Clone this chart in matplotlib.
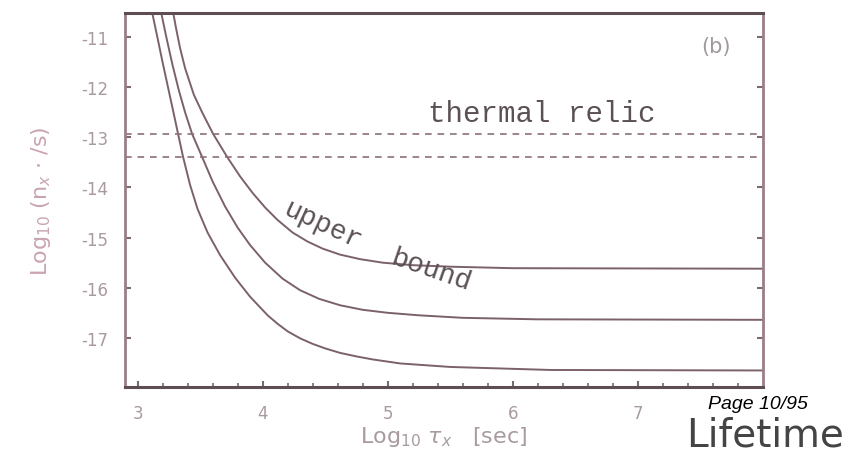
import numpy as np
import matplotlib.pyplot as plt

plt.rcParams['axes.unicode_minus'] = False

# curves: log10 tau (x) vs log10 n (y)
tau_low = [3.116, 3.16, 3.20, 3.24, 3.28, 3.324, 3.364, 3.42, 3.48, 3.56, 3.66, 3.78, 3.90, 4.04,
           4.12, 4.20, 4.30, 4.40, 4.50, 4.62, 4.75, 4.88, 5.10, 5.50, 6.30, 8.0]
n_low = [-10.50, -11.02, -11.50, -11.96, -12.42, -12.93, -13.39, -13.95, -14.43, -14.90, -15.35,
         -15.80, -16.18, -16.55, -16.72, -16.87, -17.01, -17.12, -17.21, -17.30, -17.37, -17.43,
         -17.51, -17.58, -17.64, -17.65]

tau_mid = [3.188, 3.23, 3.28, 3.33, 3.38, 3.436, 3.516, 3.60, 3.70, 3.80, 3.90, 4.02, 4.16, 4.30,
           4.45, 4.62, 4.80, 5.00, 5.25, 5.60, 6.20, 8.0]
n_mid = [-10.50, -11.00, -11.56, -12.06, -12.50, -12.93, -13.39, -13.88, -14.38, -14.80, -15.15,
         -15.50, -15.82, -16.05, -16.22, -16.35, -16.44, -16.50, -16.55, -16.60, -16.63, -16.64]

tau_up = [3.284, 3.31, 3.34, 3.38, 3.45, 3.52, 3.604, 3.716, 3.82, 3.92, 4.02, 4.12, 4.24, 4.36,
          4.48, 4.62, 4.78, 4.96, 5.20, 5.50, 6.00, 8.0]
n_up = [-10.50, -10.85, -11.22, -11.62, -12.15, -12.52, -12.93, -13.39, -13.78, -14.11, -14.40,
        -14.65, -14.90, -15.08, -15.22, -15.34, -15.43, -15.50, -15.55, -15.58, -15.61, -15.62]

relic_levels = [-12.93, -13.40]

xticks = [3, 4, 5, 6, 7]
yticks = [-11, -12, -13, -14, -15, -16, -17]

curve_col = '#7b616a'
tick_col = '#a99a9e'

fig = plt.figure(figsize=(8.67, 4.56), dpi=100)
ax = fig.add_axes([0.1442, 0.1491, 0.7359, 0.8202])

for t, n in [(tau_low, n_low), (tau_mid, n_mid), (tau_up, n_up)]:
    ax.plot(t, n, color=curve_col, lw=1.4)

for lv in relic_levels:
    ax.axhline(lv, color='#8c7079', lw=1.2, ls=(0, (4, 3.5)))

ax.set_xlim(2.9, 8.0)
ax.set_ylim(-17.98, -10.52)
ax.set_xticks(xticks)
ax.set_yticks(yticks)
ax.set_xticks(np.arange(3.0, 8.0, 0.2), minor=True)
ax.tick_params(axis='both', direction='in', length=4, width=1.5, color='#7a6a70',
               labelcolor=tick_col, labelsize=12, top=False, right=True)
ax.tick_params(axis='x', pad=12)
ax.tick_params(axis='y', pad=12)
ax.tick_params(axis='x', which='minor', direction='in', length=3, width=1.2, color='#7a6a70')
ax.tick_params(axis='y', which='minor', left=False, right=False)

for side in ['top', 'bottom']:
    ax.spines[side].set_color('#5e4e54')
    ax.spines[side].set_linewidth(2.2)
for side in ['left', 'right']:
    ax.spines[side].set_color('#9a7e88')
    ax.spines[side].set_linewidth(2.0)

ax.set_xlabel(r'Log$_{10}$ $\tau_x$   [sec]', color=tick_col, fontsize=16, labelpad=2)
ax.set_ylabel(r'Log$_{10}$ (n$_x$ $\cdot$ /s)', color='#c9a4ae', fontsize=16, labelpad=20)

ax.text(5.324, -12.67, 'thermal relic', family='Liberation Mono', fontsize=21,
        color='#5a5055', ha='left', va='baseline')
ax.text(4.48, -14.74, 'upper', family='Liberation Mono', fontsize=20, color='#5a5055',
        ha='center', va='center', rotation=-25)
ax.text(5.35, -15.64, 'bound', family='Liberation Mono', fontsize=20, color='#5a5055',
        ha='center', va='center', rotation=-19)
ax.text(7.62, -11.18, '(b)', color='#a09a9c', fontsize=15, ha='center', va='center')

fig.text(0.874, 0.112, 'Page 10/95', family='Liberation Sans', style='italic',
         fontsize=14, color='black', ha='center', va='center')
fig.text(0.882, 0.045, 'Lifetime', family='DejaVu Sans', fontsize=28, color='#444444',
         ha='center', va='center')

fig.savefig('out.png', dpi=100)
